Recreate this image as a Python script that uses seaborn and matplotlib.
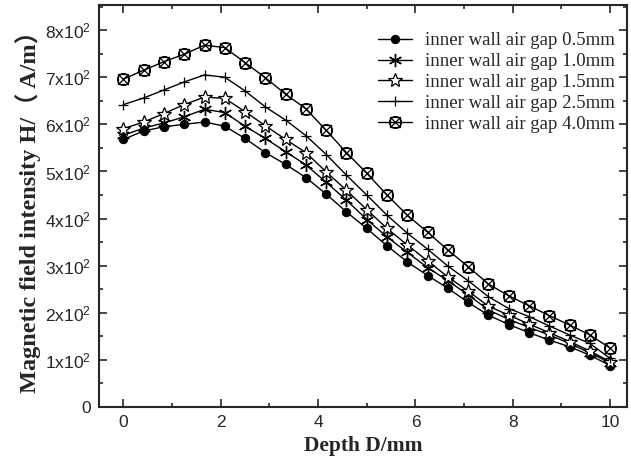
import numpy as np
import pandas as pd
import matplotlib
matplotlib.use("Agg")
import matplotlib.pyplot as plt
from matplotlib.path import Path
from matplotlib.ticker import MultipleLocator, FixedLocator, FixedFormatter
import seaborn as sns

# ---- data ----
depth = [0, 0.417, 0.833, 1.25, 1.667, 2.083, 2.5, 2.917, 3.333, 3.75, 4.167, 4.583, 5.0,
         5.417, 5.833, 6.25, 6.667, 7.083, 7.5, 7.917, 8.333, 8.75, 9.167, 9.583, 10.0]
gap_05 = [568, 586, 595, 600, 605, 596, 570, 540, 515, 487, 452, 414, 379,
          342, 308, 279, 252, 222, 195, 175, 158, 142, 128, 110, 88]
gap_10 = [577, 592, 603, 616, 632, 625, 596, 570, 542, 514, 477, 439, 398,
          361, 328, 296, 268, 238, 206, 186, 169, 153, 135, 115, 94]
gap_15 = [591, 605, 623, 642, 658, 655, 627, 597, 568, 540, 499, 460, 419,
          379, 344, 310, 276, 246, 214, 195, 176, 158, 139, 119, 96]
gap_25 = [642, 656, 673, 690, 705, 700, 671, 637, 609, 576, 536, 492, 450,
          407, 369, 335, 299, 268, 234, 209, 192, 172, 153, 135, 103]
gap_40 = [696, 715, 733, 749, 768, 763, 731, 699, 664, 633, 587, 540, 496,
          450, 407, 371, 333, 298, 261, 236, 215, 194, 174, 153, 125]
labels = ["inner wall air gap 0.5mm", "inner wall air gap 1.0mm", "inner wall air gap 1.5mm",
          "inner wall air gap 2.5mm", "inner wall air gap 4.0mm"]
ytick_vals = [0, 100, 200, 300, 400, 500, 600, 700, 800]
ytick_labels = ["0"] + [r"$\mathregular{%dx10^{2}}$" % i for i in range(1, 9)]

sns.set_style("ticks")
plt.rcParams["font.family"] = ["Liberation Sans", "DejaVu Sans"]
plt.rcParams["mathtext.fontset"] = "custom"
plt.rcParams["mathtext.rm"] = "Liberation Sans"

# custom marker: circle with X inside a square
circ = Path.unit_circle()
xl = Path([[-0.72, -0.72], [0.72, 0.72], [-0.72, 0.72], [0.72, -0.72]],
          [Path.MOVETO, Path.LINETO, Path.MOVETO, Path.LINETO])
sq = Path([[-0.85, -0.85], [0.85, -0.85], [0.85, 0.85], [-0.85, 0.85], [-0.85, -0.85]],
          [Path.MOVETO, Path.LINETO, Path.LINETO, Path.LINETO, Path.CLOSEPOLY])
cross_marker = Path.make_compound_path(circ, xl, sq)

fig = plt.figure(figsize=(6.31, 4.70), dpi=100)
ax = fig.add_axes([0.157, 0.134, 0.837, 0.855])

styles = [
    dict(marker="o", ms=6, mfc="black", mec="black"),
    dict(marker=(6, 2, 0), ms=9.5, mfc="none", mec="black", mew=1.0),
    dict(marker="*", ms=10, mfc="white", mec="black", mew=0.9),
    dict(marker="+", ms=7, mfc="none", mec="black", mew=0.9),
    dict(marker=cross_marker, ms=8.5, mfc="none", mec="black", mew=0.9),
]
series = [gap_05, gap_10, gap_15, gap_25, gap_40]
for vals, lab, st in zip(series, labels, styles):
    df = pd.DataFrame({"D": depth, "H": vals})
    sns.lineplot(data=df, x="D", y="H", ax=ax, color="black", lw=1.0, label=lab, **st)

ax.set_xlim(-0.5, 10.35)
ax.set_ylim(0, 853)
ax.xaxis.set_major_locator(MultipleLocator(2))
ax.xaxis.set_minor_locator(MultipleLocator(1))
ax.yaxis.set_major_locator(FixedLocator(ytick_vals))
ax.yaxis.set_major_formatter(FixedFormatter(ytick_labels))
ax.yaxis.set_minor_locator(MultipleLocator(50))
ax.tick_params(which="both", direction="in", top=True, right=True, width=1.2)
ax.tick_params(which="major", length=6, labelsize=12.5, pad=6)
ax.tick_params(which="minor", length=3)
for s in ax.spines.values():
    s.set_linewidth(1.5)
    s.set_visible(True)

ax.set_xlabel("Depth D/mm", fontsize=15.5, fontweight="bold",
              family=["Liberation Serif", "Noto Sans CJK SC"], labelpad=4)
ax.set_ylabel("Magnetic field intensity H/（ A/m）", fontsize=17.5, fontweight="bold",
              family=["Liberation Serif", "Noto Sans CJK SC"], labelpad=3)

leg = ax.legend(loc="upper right", bbox_to_anchor=(1.008, 0.975), frameon=False,
                prop={"family": "Liberation Serif", "size": 13.5},
                handlelength=1.8, labelspacing=0.2, handletextpad=0.7)

fig.savefig("out.png", dpi=100)
